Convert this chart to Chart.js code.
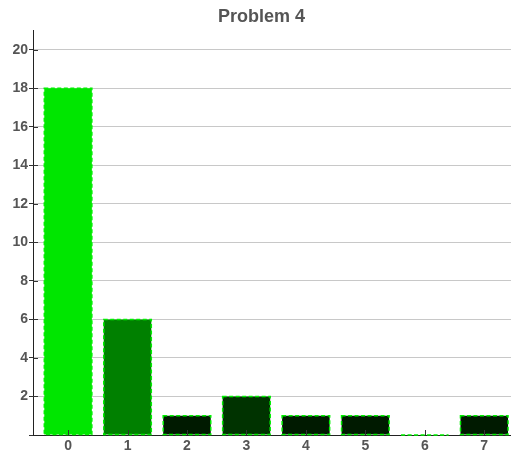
<!DOCTYPE html>
<html lang="en">
<head>
  <meta charset="UTF-8">
  <title>Problem 4</title>
  <script src="https://cdn.jsdelivr.net/npm/chart.js"></script>
  <style>
    html, body { margin: 0; padding: 0; background: #fff; }
    #wrap { width: 511px; height: 456px; }
  </style>
</head>
<body>
  <div id="wrap"><canvas id="grafico"></canvas></div>

  <script>
    // data
    const categorias = [0, 1, 2, 3, 4, 5, 6, 7];
    const valores = [18, 6, 1, 2, 1, 1, 0, 1];
    const cores = ["#00e600", "#008000", "#001a00", "#003300", "#001a00", "#001a00", "#001a00", "#001a00"];
    const yTicks = [2, 4, 6, 8, 10, 12, 14, 16, 18, 20];

    const familia = "'Liberation Sans', Arial, sans-serif";
    const fonte = { family: familia, weight: "bold", size: 14 };

    // dashed outline on each bar + small inner ticks on the axes
    const detalhes = {
      id: "detalhes",
      afterDatasetsDraw(chart) {
        const ctx = chart.ctx;
        const meta = chart.getDatasetMeta(0);
        ctx.save();
        ctx.strokeStyle = "#00f000";
        ctx.lineWidth = 1.5;
        ctx.setLineDash([4, 2.5]);
        meta.data.forEach(function(bar) {
          const p = bar.getProps(["x", "y", "base", "width"], true);
          const x0 = p.x - p.width / 2;
          ctx.strokeRect(x0, Math.min(p.y, p.base), p.width, Math.abs(p.base - p.y));
        });
        ctx.setLineDash([]);
        const xs = chart.scales.x;
        const ys = chart.scales.y;
        const area = chart.chartArea;
        ctx.strokeStyle = "#333";
        ctx.lineWidth = 1;
        categorias.forEach(function(c) {
          const px = Math.round(xs.getPixelForValue(c)) + 0.5;
          ctx.beginPath();
          ctx.moveTo(px, area.bottom);
          ctx.lineTo(px, area.bottom - 5);
          ctx.stroke();
        });
        yTicks.forEach(function(v) {
          const py = Math.round(ys.getPixelForValue(v)) + 0.5;
          ctx.beginPath();
          ctx.moveTo(area.left, py);
          ctx.lineTo(area.left + 5, py);
          ctx.stroke();
        });
        ctx.restore();
      }
    };

    const ctx = document.getElementById("grafico").getContext("2d");
    const grafico = new Chart(ctx, {
      type: "bar",
      data: {
        datasets: [{
          label: "Problem 4",
          data: categorias.map(function(c, i) { return { x: c, y: valores[i] }; }),
          backgroundColor: cores,
          borderWidth: 0,
          categoryPercentage: 1,
          barPercentage: 0.8
        }]
      },
      options: {
        responsive: true,
        maintainAspectRatio: false,
        animation: false,
        layout: { padding: { left: 12, right: 0, top: 0, bottom: 0 } },
        plugins: {
          legend: { display: false },
          tooltip: { enabled: false },
          title: {
            display: true,
            text: "Problem 4",
            color: "#555",
            font: { family: familia, weight: "bold", size: 18, lineHeight: 1.2 },
            padding: { top: 6, bottom: 3 }
          }
        },
        scales: {
          x: {
            type: "linear",
            offset: false,
            min: -0.59,
            max: 7.45,
            afterFit: function(s) { s.height = 21; },
            ticks: {
              stepSize: 1,
              includeBounds: false,
              color: "#555",
              font: fonte,
              padding: 3,
              callback: function(v) { return categorias.includes(v) ? String(v) : ""; }
            },
            grid: { drawOnChartArea: false, drawTicks: false },
            border: { color: "#222", width: 1 }
          },
          y: {
            min: 0,
            max: 21,
            afterFit: function(s) { s.width = 21; },
            afterBuildTicks: function(s) {
              s.ticks = [{ value: 0 }].concat(yTicks.map(function(v) { return { value: v }; }));
            },
            ticks: {
              color: "#555",
              font: fonte,
              padding: 1,
              callback: function(v) { return v === 0 ? "" : String(v); }
            },
            grid: { color: "#c8c8c8", tickColor: "#333", tickLength: 4 },
            border: { color: "#222", width: 1 }
          }
        }
      },
      plugins: [detalhes]
    });
  </script>
</body>
</html>
